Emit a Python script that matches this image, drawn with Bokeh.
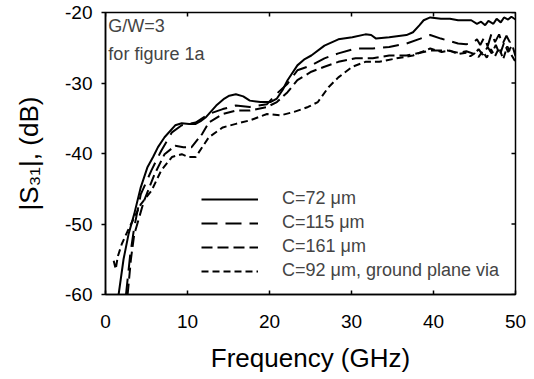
from bokeh.plotting import figure
from bokeh.models import Range1d, FixedTicker, Legend, LegendItem, Label
from bokeh.embed import file_html
from bokeh.resources import INLINE

# ---- data ----
x_ticks = [0, 10, 20, 30, 40, 50]
x_tick_labels = ["0", "10", "20", "30", "40", "50"]
y_ticks = [-60, -50, -40, -30, -20]
y_tick_labels = ["-60", "-50", "-40", "-30", "-20"]

freq_72 = [1.6, 2.2, 2.8, 3.5, 4.3, 5.1, 5.8, 6.4, 7.2, 8.5, 9.3, 10.2, 11.0, 11.6, 12.2,
           13.5, 14.5, 15.1, 15.9, 16.8, 17.6, 18.9, 20.1, 20.9, 21.6, 22.2, 23.4, 24.3,
           25.1, 26.7, 28.4, 30.1, 31.7, 32.4, 33.0, 34.6, 36.7, 37.5, 38.3, 38.8, 39.6,
           40.9, 42.0, 43.0, 44.6, 45.3, 45.8, 46.3, 46.7, 47.3, 47.7, 48.2, 48.6, 49.1,
           49.5, 50.0]
s31_72 = [-60.0, -55.0, -51.5, -48.6, -44.8, -42.0, -40.5, -39.1, -37.7, -36.0, -35.7, -35.8,
          -35.8, -35.4, -34.9, -33.2, -32.2, -31.8, -31.6, -31.9, -32.5, -32.7, -32.7, -32.2,
          -31.0, -29.6, -27.5, -26.6, -26.1, -24.7, -23.8, -23.5, -23.1, -23.2, -23.7, -23.5,
          -23.2, -22.8, -21.8, -21.1, -20.7, -20.9, -20.9, -21.1, -21.1, -21.6, -21.3, -21.8,
          -21.2, -21.6, -20.9, -21.4, -20.7, -21.0, -20.6, -21.0]

freq_115 = [2.5, 3.0, 3.5, 4.3, 5.6, 6.8, 8.1, 9.3, 11.0, 12.6, 14.3, 15.9, 17.6, 19.7, 20.9,
            22.2, 23.4, 25.1, 26.7, 28.4, 30.5, 32.6, 34.6, 36.7, 38.4, 39.6, 40.9, 43.0,
            44.0, 44.8, 45.3, 45.7, 46.2, 46.6, 47.1, 47.5, 48.0, 48.4, 48.9, 49.3, 49.7, 50.0]
s31_115 = [-60.0, -54.5, -50.5, -45.8, -42.4, -39.6, -37.0, -36.0, -35.6, -34.4, -33.7, -33.2,
           -33.4, -33.0, -31.5, -30.1, -28.2, -27.5, -26.5, -25.8, -25.1, -25.1, -24.9, -24.4,
           -23.7, -23.2, -23.7, -24.4, -24.5, -24.3, -23.8, -24.6, -23.5, -24.8, -22.9, -24.2,
           -23.1, -24.5, -23.3, -24.2, -23.6, -24.0]

freq_161 = [2.7, 3.1, 3.5, 4.7, 6.0, 7.2, 8.5, 9.5, 10.5, 11.8, 12.6, 14.3, 15.9, 17.6, 19.7,
            20.9, 22.2, 23.4, 25.1, 26.7, 28.4, 30.5, 32.6, 34.6, 36.7, 39.6, 41.7, 43.0,
            44.0, 45.0, 45.5, 46.0, 46.6, 47.1, 47.6, 48.1, 48.6, 49.1, 49.6, 50.0]
s31_161 = [-60.0, -55.0, -51.5, -46.7, -42.9, -40.1, -38.9, -39.1, -39.1, -37.2, -35.6, -34.4,
           -33.9, -33.9, -33.4, -32.7, -31.3, -29.6, -28.4, -27.7, -27.0, -26.5, -26.5, -26.1,
           -26.1, -25.4, -25.4, -25.7, -25.5, -25.9, -25.2, -26.0, -24.9, -25.8, -24.6, -26.0,
           -24.3, -25.6, -24.6, -26.2]

freq_92 = [1.0, 1.25, 1.5, 2.0, 2.7, 3.5, 4.3, 5.6, 6.8, 8.1, 9.3, 10.1, 11.0, 11.8, 12.6,
           14.3, 15.9, 17.6, 19.7, 21.3, 23.0, 24.7, 25.9, 27.2, 28.4, 30.1, 31.7, 33.4, 35.5,
           37.5, 39.6, 41.0, 42.0, 43.0, 44.0, 44.5, 45.0, 45.5, 46.0, 46.5, 47.0, 47.5, 48.0,
           48.5, 49.0, 49.5, 50.0]
s31_92 = [-55.2, -56.4, -54.6, -52.8, -51.0, -49.1, -47.2, -45.3, -42.4, -40.5, -40.1, -40.5,
          -40.5, -39.1, -37.7, -36.3, -35.8, -35.3, -34.4, -34.6, -34.1, -33.4, -32.7, -30.6,
          -29.2, -27.7, -27.0, -27.0, -26.5, -26.1, -25.1, -25.6, -25.4, -25.9, -25.7, -26.2,
          -25.8, -26.3, -25.5, -26.4, -25.2, -26.2, -25.0, -26.6, -24.8, -26.0, -27.0]

labels = ["C=72 \u03bcm", "C=115 \u03bcm", "C=161 \u03bcm", "C=92 \u03bcm, ground plane via"]
note_lines = ["G/W=3", "for figure 1a"]

FONT = "Liberation Sans"
X0, X1 = 0, 50
Y0, Y1 = -60, -20
FRAME_W, FRAME_H = 410, 282
TICK_PX = 4

p = figure(width=534, height=379, output_backend="svg", toolbar_location=None,
           x_range=Range1d(X0, X1), y_range=Range1d(Y0, Y1),
           min_border_left=105, min_border_right=19, min_border_top=12, min_border_bottom=85,
           background_fill_color="white", border_fill_color="white")
p.grid.visible = False
p.outline_line_color = "black"
p.outline_line_width = 1.5

xa = p.xaxis[0]
xa.ticker = FixedTicker(ticks=x_ticks)
xa.major_label_overrides = dict(zip(x_ticks, x_tick_labels))
xa.axis_label = "Frequency (GHz)"
ya = p.yaxis[0]
ya.ticker = FixedTicker(ticks=y_ticks)
ya.major_label_overrides = dict(zip(y_ticks, y_tick_labels))
ya.axis_label = "|S\u2083\u2081|, (dB)"
for ax in (xa, ya):
    ax.axis_line_width = 1.5
    ax.major_tick_line_width = 1.5
    ax.minor_tick_in = 0
    ax.minor_tick_out = 0
    ax.major_label_text_font = FONT
    ax.major_label_text_font_size = "19px"
    ax.major_label_text_color = "black"
    ax.axis_label_text_font = FONT
    ax.axis_label_text_font_size = "26px"
    ax.axis_label_text_font_style = "normal"
    ax.axis_label_text_color = "black"
xa.major_tick_in = 4
xa.major_tick_out = 0
xa.major_label_standoff = 20
xa.axis_label_standoff = 12
ya.major_tick_in = 0
ya.major_tick_out = 4
ya.major_label_standoff = 9
ya.axis_label_standoff = 18

# inward tick marks on the top and right frame edges
dy_tick = TICK_PX * (Y1 - Y0) / FRAME_H
dx_tick = TICK_PX * (X1 - X0) / FRAME_W
p.segment(x0=x_ticks, y0=[Y1] * len(x_ticks), x1=x_ticks, y1=[Y1 - dy_tick] * len(x_ticks),
          line_color="black", line_width=1.5)
p.segment(x0=[X1] * len(y_ticks), y0=y_ticks, x1=[X1 - dx_tick] * len(y_ticks), y1=y_ticks,
          line_color="black", line_width=1.5)

r1 = p.line(freq_72, s31_72, line_color="black", line_width=2)
r2 = p.line(freq_115, s31_115, line_color="black", line_width=2, line_dash="16 8")
r3 = p.line(freq_161, s31_161, line_color="black", line_width=2, line_dash="11 5")
r4 = p.line(freq_92, s31_92, line_color="black", line_width=2, line_dash="7 4")

legend = Legend(items=[LegendItem(label=labels[0], renderers=[r1]),
                       LegendItem(label=labels[1], renderers=[r2]),
                       LegendItem(label=labels[2], renderers=[r3]),
                       LegendItem(label=labels[3], renderers=[r4])],
                location=(96, 13), padding=0, margin=0, spacing=3,
                glyph_width=57, glyph_height=20, label_height=20, label_standoff=24,
                label_text_font=FONT, label_text_font_size="18px",
                border_line_color=None, background_fill_alpha=0)
p.add_layout(legend)

p.add_layout(Label(x=0.35, y=-21.85, text=note_lines[0], text_font=FONT, text_font_size="18px",
                   text_baseline="middle", text_align="left"))
p.add_layout(Label(x=0.35, y=-25.85, text=note_lines[1], text_font=FONT, text_font_size="18px",
                   text_baseline="middle", text_align="left"))

open("out.html", "w").write(file_html(p, INLINE))
